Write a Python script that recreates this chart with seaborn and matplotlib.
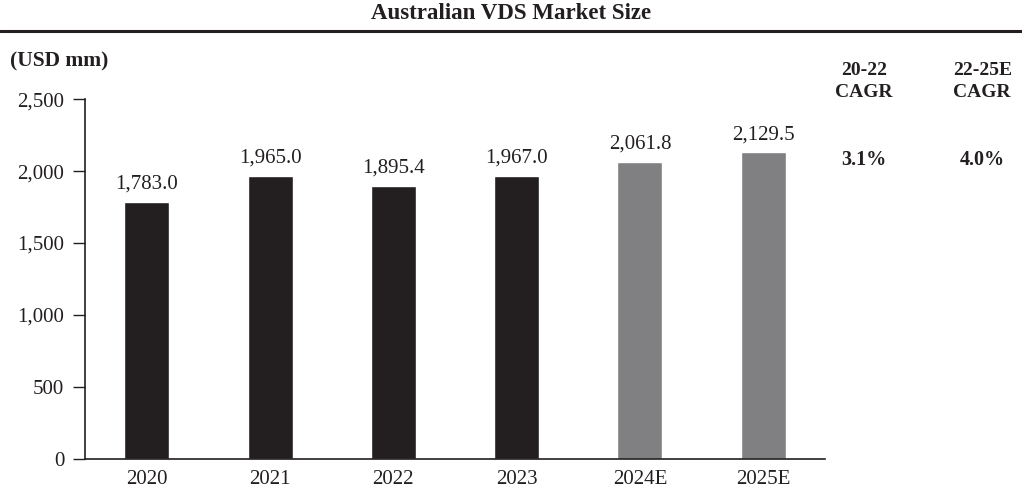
import numpy as np
import pandas as pd
import matplotlib.pyplot as plt
import seaborn as sns
from matplotlib.lines import Line2D

# ---------------------------------------------------------------------
# Data
# ---------------------------------------------------------------------
years = ["2020", "2021", "2022", "2023", "2024E", "2025E"]
market_size = [1783.0, 1965.0, 1895.4, 1967.0, 2061.8, 2129.5]
bar_colors = ["#231f20", "#231f20", "#231f20", "#231f20", "#808083", "#808083"]

cagr_headers = ["20-22\nCAGR", "22-25E\nCAGR"]
cagr_values = ["3.1%", "4.0%"]

df = pd.DataFrame({"Year": years, "Size": market_size})

sns.set_style("white")
plt.rcParams["font.family"] = ["Liberation Serif", "DejaVu Serif"]

fig = plt.figure(figsize=(10.22, 4.88), dpi=100)
ax = fig.add_axes([0.0832, 0.0594, 0.724, 0.7376])

sns.barplot(data=df, x="Year", y="Size", hue="Year", palette=bar_colors,
            width=0.365, legend=False, saturation=1, ax=ax)

ax.set_xlim(-0.5, 5.5)
ax.set_ylim(0, 2500)
ax.set_yticks(np.arange(0, 2501, 500))
ax.set_yticklabels([f"{v:,}" for v in range(0, 2501, 500)])
ax.set_xlabel("")
ax.set_ylabel("")
ax.tick_params(axis="y", direction="out", length=9, width=1, pad=6,
               labelsize=15, colors="#231f20", left=True)
ax.tick_params(axis="x", length=0, pad=8, labelsize=15, colors="#231f20")
sns.despine(ax=ax, top=True, right=True)
for side in ["left", "bottom"]:
    ax.spines[side].set_color("#231f20")
    ax.spines[side].set_linewidth(1.2)

# value labels above bars
for i, v in enumerate(market_size):
    ax.annotate(f"{v:,.1f}", xy=(i, v), xytext=(0, 6), textcoords="offset points",
                ha="center", va="bottom", fontsize=15, color="#231f20")

# title and rule
fig.text(0.5, 0.972, "Australian VDS Market Size", ha="center", va="center",
         fontsize=16.5, fontweight="bold", color="#231f20")
fig.add_artist(Line2D([0, 1], [0.9365, 0.9365], transform=fig.transFigure,
                      color="#231f20", lw=2.2))

fig.text(0.0098, 0.873, "(USD mm)", ha="left", va="center",
         fontsize=15.5, fontweight="bold", color="#231f20")

# CAGR columns
cagr_x = [0.8455, 0.961]
for x, head, val in zip(cagr_x, cagr_headers, cagr_values):
    fig.text(x, 0.833, head, ha="center", va="center", fontsize=14,
             fontweight="bold", color="#231f20", linespacing=1.45)
    fig.text(x, 0.672, val, ha="center", va="center", fontsize=14.5,
             fontweight="bold", color="#231f20")

plt.savefig("out.png", dpi=100)
